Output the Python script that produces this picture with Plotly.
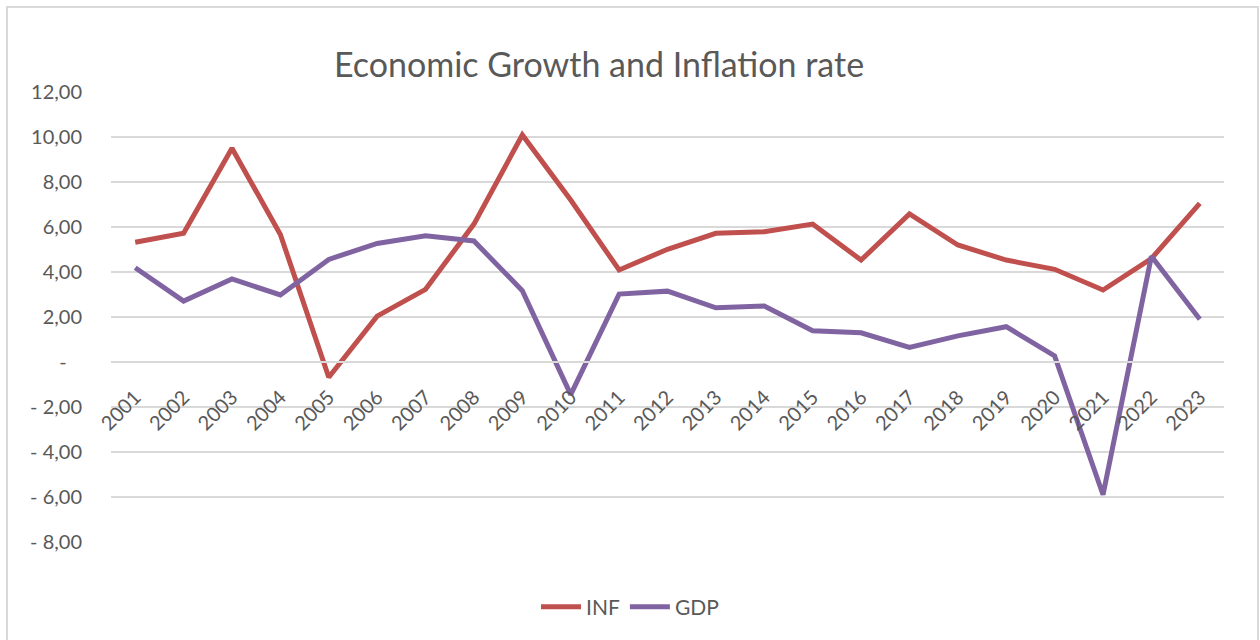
import plotly.graph_objects as go

# Annual figures, 2001-2023
years = [str(y) for y in range(2001, 2024)]
inf = [5.32, 5.72, 9.50, 5.67, -0.68, 2.04, 3.23, 6.13, 10.09, 7.20, 4.09, 5.01,
       5.72, 5.79, 6.13, 4.53, 6.58, 5.20, 4.53, 4.12, 3.20, 4.60, 7.05]
gdp = [4.19, 2.71, 3.69, 2.98, 4.56, 5.27, 5.61, 5.38, 3.17, -1.45, 3.02, 3.15,
       2.41, 2.49, 1.39, 1.30, 0.65, 1.16, 1.57, 0.27, -5.90, 4.70, 1.90]

y_ticks = [12, 10, 8, 6, 4, 2, 0, -2, -4, -6, -8]
y_labels = ["12,00", "10,00", "8,00", "6,00", "4,00", "2,00", "-\u00a0\u00a0\u00a0",
            "- 2,00", "- 4,00", "- 6,00", "- 8,00"]

W, H = 1260, 640
L, R, T, B = 111, 36, 92, 98
pw, ph = W - L - R, H - T - B
FONT = "Lato"
GREY = "#595959"
GRID = "#D9D9D9"

fig = go.Figure()
fig.add_trace(go.Scatter(x=years, y=inf, name="INF", mode="lines",
                         line=dict(color="#C0504D", width=5)))
fig.add_trace(go.Scatter(x=years, y=gdp, name="GDP", mode="lines",
                         line=dict(color="#8064A2", width=5)))

# outer chart border
fig.add_shape(type="rect", xref="paper", yref="paper",
              x0=(7 - L) / pw, x1=(1258 - L) / pw,
              y0=(H - B - 650) / ph, y1=1 + (T - 7) / ph,
              line=dict(color=GRID, width=2), fillcolor="rgba(0,0,0,0)", layer="below")

fig.update_layout(
    width=W, height=H,
    margin=dict(l=L, r=R, t=T, b=B),
    paper_bgcolor="white", plot_bgcolor="white",
    font=dict(family=FONT, color=GREY, size=18),
    title=dict(text="Economic Growth and Inflation rate",
               x=599 / W, xanchor="center", y=1 - 65 / H, yanchor="middle",
               font=dict(family=FONT, size=34, color=GREY)),
    xaxis=dict(type="category", range=[-0.5, 22.5], tickangle=-45,
               anchor="free", position=8 / 20,
               showgrid=False, showline=True, linecolor=GRID, linewidth=1.5,
               ticks="", ticklabelstandoff=15,
               tickfont=dict(family=FONT, size=20, color=GREY)),
    yaxis=dict(range=[-8, 12], tickvals=y_ticks, ticktext=y_labels,
               showgrid=True, gridcolor=GRID, gridwidth=1.5,
               zeroline=True, zerolinecolor=GRID, zerolinewidth=1.5,
               ticks="", ticklabelstandoff=28,
               tickfont=dict(family=FONT, size=20, color=GREY)),
    legend=dict(orientation="h", x=0.5 - (L - R) / 2 / pw, xanchor="center",
                y=-(607 - (H - B)) / ph, yanchor="middle",
                font=dict(family=FONT, size=21, color=GREY),
                itemwidth=40, bgcolor="rgba(0,0,0,0)"),
    showlegend=True,
)

fig.write_html("out.html")
